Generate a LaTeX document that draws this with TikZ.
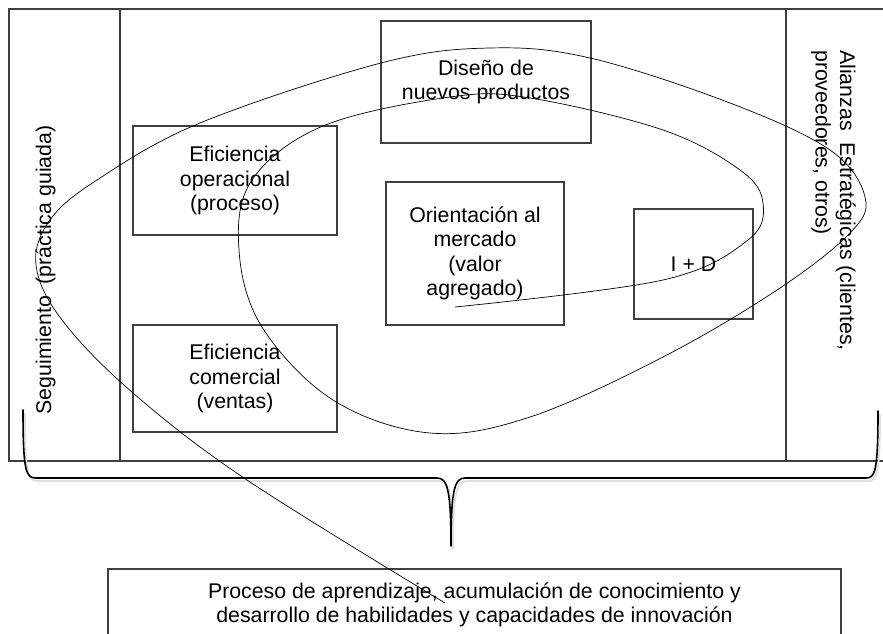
\documentclass[tikz,border=0pt]{standalone}
\usepackage{fontspec}
\setmainfont{Liberation Sans}
\definecolor{frame}{HTML}{3F3F3F}
\begin{document}
\begin{tikzpicture}[x=1pt,y=-1pt,
 box/.style={draw=frame, line width=1.1pt, align=center, font=\fontsize{21.3}{24.5}\selectfont, inner sep=0pt},
 txt/.style={align=center, font=\fontsize{21.3}{24.5}\selectfont, inner sep=0pt},
 frameline/.style={draw=frame, line width=1.2pt},
 spiral/.style={black, line width=0.7pt},
 bracestyle/.style={black, line width=1.6pt, line join=round, line cap=round}]
\useasboundingbox (0,0) rectangle (883,634);
\fill[white] (0,0) rectangle (883,634);
% frame
\draw[frameline] (883,9) -- (9,9) -- (9,461) -- (883,461);
\draw[frameline] (120,9) -- (120,461);
\draw[frameline] (786,9) -- (786,461);
% boxes
\node[box, minimum width=210, minimum height=122] (dis) at (486,82) {Diseño de\\nuevos productos};
\node[box, minimum width=204, minimum height=109] (op) at (235,180.5) {Eficiencia\\operacional\\(proceso)};
\node[box, minimum width=178, minimum height=143] (ori) at (475,253.5) {Orientación al\\mercado\\(valor\\agregado)};
\node[box, minimum width=119, minimum height=110] (id) at (693.5,264) {I + D};
\node[box, minimum width=204, minimum height=107] (com) at (235,378.5) {Eficiencia\\comercial\\(ventas)};
% side texts
\node[txt, rotate=90, anchor=base] (seg) at (51,270) {Seguimiento\ \ (práctica guiada)};
\node[txt, rotate=-90, anchor=north west, align=left] (ali) at (856,50) {Alianzas\ \ Estratégicas (clientes,\\proveedores, otros)};
% bottom box
\draw[frameline, line width=1.1pt] (108,640) -- (108,569) -- (841,569) -- (841,640);
\node[txt] (proc) at (474.5,605) {Proceso de aprendizaje, acumulación de conocimiento y\\desarrollo de habilidades y capacidades de innovación};
% brace shadow and brace
\draw[gray!25, line width=1.8pt, xshift=2pt, yshift=-3pt] (23,410) .. controls (23,472) and (26,478) .. (36,478) -- (437,478) .. controls (447,478) and (451,488) .. (451,546) .. controls (451,488) and (455,478) .. (465,478) -- (866,478) .. controls (875,478) and (878,472) .. (878,411);
\draw[bracestyle] (23,410) .. controls (23,472) and (26,478) .. (36,478) -- (437,478) .. controls (447,478) and (451,488) .. (451,546) .. controls (451,488) and (455,478) .. (465,478) -- (866,478) .. controls (875,478) and (878,472) .. (878,411);
% spiral
\draw[spiral] plot[smooth, tension=0.6] coordinates {
(445,603) (247,480) (133,393) (62,320) (36,265) (50,220) (97,180) (200,123) (381,63) (490,48) (590,58) (730,103) (830,150) (865,197) (850,233) (777,290) (663,357) (530,417) (430,433) (333,400) (262,327) (239,250) (252,180) (323,126) (450,97) (530,98) (663,130) (740,170) (763,203) (748,240) (663,280) (455,307)};
\end{tikzpicture}
\end{document}
